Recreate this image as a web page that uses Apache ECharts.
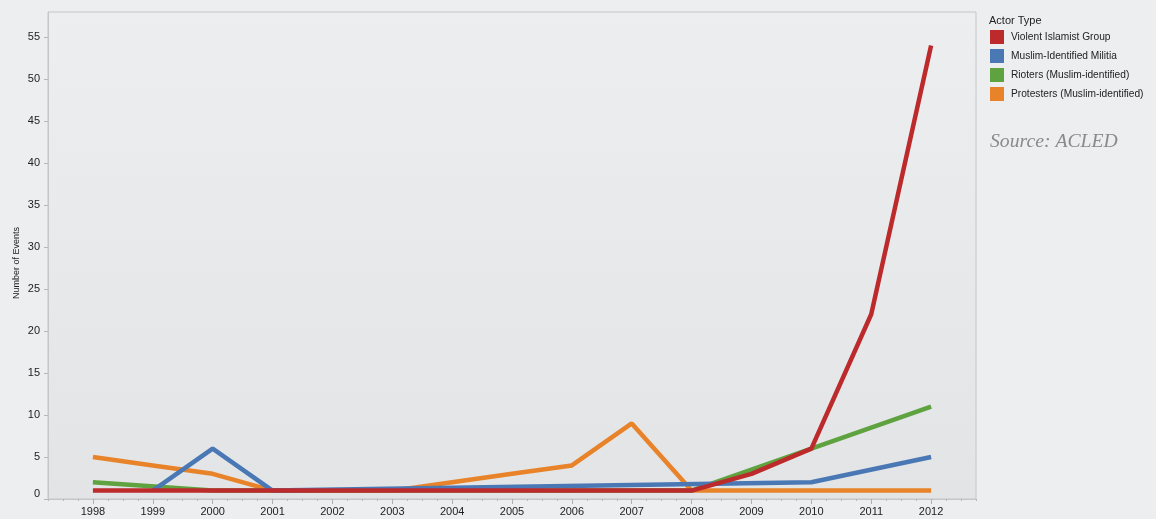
<!DOCTYPE html>
<html>
<head>
<meta charset="utf-8">
<script src="https://cdn.jsdelivr.net/npm/echarts@6/dist/echarts.min.js"></script>
<style>
  html, body { margin: 0; padding: 0; background: #eceef0; }
  #chart { width: 1156px; height: 519px; }
</style>
</head>
<body>
<div id="chart"></div>
<script>
var years = [1998, 1999, 2000, 2001, 2002, 2003, 2004, 2005, 2006, 2007, 2008, 2009, 2010, 2011, 2012];
var violentIslamist = [1, 1, 1, 1, 1, 1, 1, 1, 1, 1, 1, 3, 6, 22, 54];
var militia = [null, 1, 6, 1, null, null, null, null, null, null, null, null, 2, null, 5];
var rioters = [2, null, 1, 1, 1, 1, 1, 1, 1, 1, 1, null, 6, null, 11];
var protesters = [5, 4, 3, 1, 1, 1, 2, 3, 4, 9, 1, 1, 1, 1, 1];
var yTicks = [0, 5, 10, 15, 20, 25, 30, 35, 40, 45, 50, 55];

function pairs(vals) {
  return years.map(function (y, i) { return [y, vals[i]]; });
}

var colors = {
  "Violent Islamist Group": "#bd2a2c",
  "Muslim-Identified Militia": "#4a78b5",
  "Rioters (Muslim-identified)": "#5fa240",
  "Protesters (Muslim-identified)": "#e8832a"
};

function line(name, vals) {
  return {
    name: name,
    type: "line",
    data: pairs(vals),
    connectNulls: true,
    showSymbol: false,
    symbol: "none",
    color: colors[name],
    lineStyle: { width: 4.5, color: colors[name] },
    emphasis: { disabled: true }
  };
}

var chart = echarts.init(document.getElementById("chart"));
chart.setOption({
  backgroundColor: "#eceef0",
  animation: false,
  textStyle: { fontFamily: "Arial, 'Liberation Sans', sans-serif" },
  grid: {
    left: 48, right: 180, top: 12, bottom: 20,
    outerBoundsMode: "none",
    show: true,
    borderColor: "#c6c6c6",
    borderWidth: 1,
    backgroundColor: {
      type: "linear", x: 0, y: 0, x2: 0, y2: 1,
      colorStops: [{ offset: 0, color: "#eceef0" }, { offset: 1, color: "#e2e4e6" }]
    }
  },
  legend: {
    orient: "vertical",
    left: 990, top: 30,
    padding: 0,
    icon: "rect",
    itemWidth: 14, itemHeight: 14,
    itemGap: 5,
    data: ["Violent Islamist Group", "Muslim-Identified Militia", "Rioters (Muslim-identified)", "Protesters (Muslim-identified)"],
    textStyle: { fontSize: 10.2, color: "#222", padding: [0, 0, 0, 2] },
    selectedMode: false
  },
  title: {
    text: "Actor Type",
    left: 984, top: 10,
    textStyle: { fontSize: 11, fontWeight: "normal", color: "#222" }
  },
  graphic: [{
    type: "text",
    left: 990, top: 132,
    style: {
      text: "Source: ACLED",
      font: "italic 19.7px 'Liberation Serif', 'DejaVu Serif', serif",
      fill: "#8a8a8a"
    }
  }, {
    type: "text",
    x: 17, y: 263,
    rotation: Math.PI / 2,
    style: {
      text: "Number of Events",
      font: "9px Arial, 'Liberation Sans', sans-serif",
      fill: "#222",
      align: "center",
      verticalAlign: "middle"
    }
  }],
  xAxis: [{
    type: "value",
    min: 1997.25, max: 2012.75,
    interval: 0.25,
    axisLine: { show: true, lineStyle: { color: "#c6c6c6" } },
    axisTick: { show: true, length: 2, lineStyle: { color: "#b8b8b8" } },
    axisLabel: { show: false },
    splitLine: { show: false }
  }, {
    type: "value",
    position: "bottom",
    min: 1997.25, max: 2012.75,
    axisLine: { show: false },
    axisTick: { show: true, length: 5, customValues: years, lineStyle: { color: "#b0b0b0" } },
    axisLabel: { customValues: years, fontSize: 11, color: "#222", margin: 7, formatter: function (v) { return String(v); } },
    splitLine: { show: false }
  }],
  yAxis: {
    type: "value",
    min: 0, max: 58,
    axisLine: { show: true, lineStyle: { color: "#c6c6c6" } },
    axisTick: { show: true, length: 4, customValues: yTicks, lineStyle: { color: "#b8b8b8" } },
    axisLabel: {
      customValues: yTicks, fontSize: 11, color: "#222", margin: 8,
      formatter: function (v) { return v === 0 ? "{z|0}" : String(v); },
      rich: { z: { fontSize: 11, color: "#222", padding: [0, 0, 11, 0] } }
    },
    splitLine: { show: false }
  },
  series: [
    line("Protesters (Muslim-identified)", protesters),
    line("Rioters (Muslim-identified)", rioters),
    line("Muslim-Identified Militia", militia),
    line("Violent Islamist Group", violentIslamist)
  ]
});
</script>
</body>
</html>
